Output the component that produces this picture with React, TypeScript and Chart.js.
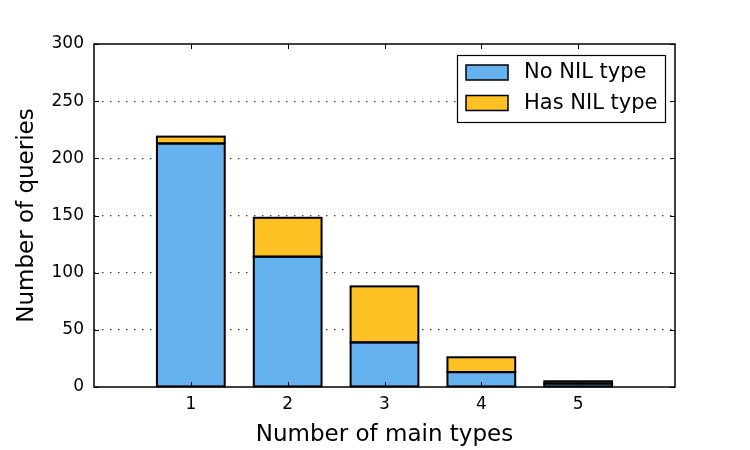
import React, { useEffect, useRef } from "react";
import { Chart, registerables } from "chart.js";

Chart.register(...registerables);

const categories = ["", "1", "2", "3", "4", "5", ""];
const noNilValues = [null, 213, 114, 39, 13, 3, null];
const hasNilValues = [null, 6, 34, 49, 13, 2, null];
const yTicks = [0, 50, 100, 150, 200, 250, 300];

const BLUE = "#66b2ee";
const YELLOW = "#fec124";
const FONT = "'DejaVu Sans', sans-serif";

const framePlugin = {
  id: "frame",
  afterDatasetsDraw(chart: any) {
    const { ctx, chartArea: a, scales } = chart;
    ctx.save();
    // bar outlines centred on edges (matplotlib style)
    ctx.strokeStyle = "#000";
    ctx.lineWidth = 2;
    chart.data.datasets.forEach((_: any, di: number) => {
      chart.getDatasetMeta(di).data.forEach((el: any) => {
        if (el.skip || el.y == null || isNaN(el.y)) return;
        const top = Math.min(el.y, el.base);
        const h = Math.abs(el.base - el.y);
        if (!h) return;
        ctx.strokeRect(el.x - el.width / 2, top, el.width, h);
      });
    });

    ctx.lineWidth = 1;
    const tl = 5;
    scales.y.ticks.forEach((t: any) => {
      const py = Math.round(scales.y.getPixelForValue(t.value)) + 0.5;
      ctx.beginPath();
      ctx.moveTo(a.left, py);
      ctx.lineTo(a.left + tl, py);
      ctx.moveTo(a.right, py);
      ctx.lineTo(a.right - tl, py);
      ctx.stroke();
    });
    categories.forEach((c, i) => {
      if (!c) return;
      const px = Math.round(scales.x.getPixelForValue(i)) + 0.5;
      ctx.beginPath();
      ctx.moveTo(px, a.bottom);
      ctx.lineTo(px, a.bottom - tl);
      ctx.moveTo(px, a.top);
      ctx.lineTo(px, a.top + tl);
      ctx.stroke();
    });
    ctx.lineWidth = 1.5;
    ctx.strokeRect(a.left, a.top, a.right - a.left, a.bottom - a.top);

    // legend
    const lx = 457, ly = 55, lw = 208, lh = 67;
    ctx.fillStyle = "#fff";
    ctx.fillRect(lx, ly, lw, lh);
    ctx.lineWidth = 1.2;
    ctx.strokeRect(lx + 0.5, ly + 0.5, lw, lh);
    ctx.font = `21px ${FONT}`;
    ctx.textBaseline = "middle";
    chart.data.datasets.forEach((ds: any, i: number) => {
      const ry = ly + 10 + i * 30.5;
      ctx.fillStyle = ds.backgroundColor;
      ctx.fillRect(lx + 9, ry, 42, 15);
      ctx.lineWidth = 1.5;
      ctx.strokeStyle = "#000";
      ctx.strokeRect(lx + 9, ry, 42, 15);
      ctx.fillStyle = "#000";
      ctx.fillText(ds.label, lx + 67, ry + 8);
    });
    ctx.restore();
  },
};

export default function App() {
  const ref = useRef<HTMLCanvasElement>(null);
  useEffect(() => {
    const common = {
      borderWidth: 0,
      barPercentage: 0.7,
      categoryPercentage: 1,
    };
    const chart = new Chart(ref.current!, {
      type: "bar",
      data: {
        labels: categories,
        datasets: [
          { label: "No NIL type", data: noNilValues as any, backgroundColor: BLUE, ...common },
          { label: "Has NIL type", data: hasNilValues as any, backgroundColor: YELLOW, ...common },
        ],
      },
      options: {
        animation: false,
        responsive: false,
        layout: { padding: { top: 44, right: 75, left: 0, bottom: 0 } },
        plugins: { legend: { display: false }, tooltip: { enabled: false } },
        scales: {
          x: {
            stacked: true,
            offset: false,
            grid: { display: false, drawTicks: false },
            border: { display: false },
            ticks: {
              color: "#000",
              font: { family: FONT, size: 17 },
              padding: 7,
              maxRotation: 0,
              autoSkip: false,
            },
            title: {
              display: true,
              text: "Number of main types",
              color: "#000",
              font: { family: FONT, size: 23 },
              padding: { top: 0, bottom: 1 },
            },
            afterFit(scale: any) {
              scale.height = 63;
            },
          },
          y: {
            stacked: true,
            min: 0,
            max: 300,
            afterBuildTicks(scale: any) {
              scale.ticks = yTicks.map((v) => ({ value: v }));
            },
            grid: {
              drawTicks: false,
              color: (c: any) =>
                c.tick && (c.tick.value === 0 || c.tick.value === 300) ? "rgba(0,0,0,0)" : "#444",
              lineWidth: 1.2,
            } as any,
            border: { display: false, dash: [1.5, 6.5] } as any,
            ticks: {
              color: "#000",
              font: { family: FONT, size: 17 },
              padding: 10,
            },
            title: {
              display: true,
              text: "Number of queries",
              color: "#000",
              font: { family: FONT, size: 23 },
              padding: { top: 13, bottom: 0 },
            },
            afterFit(scale: any) {
              scale.width = 94;
            },
          },
        },
      },
      plugins: [framePlugin],
    });
    return () => chart.destroy();
  }, []);
  return (
    <div style={{ position: "absolute", left: 0, top: 0, width: 750, height: 450, background: "#fff" }}>
      <canvas ref={ref} width={750} height={450} />
    </div>
  );
}
